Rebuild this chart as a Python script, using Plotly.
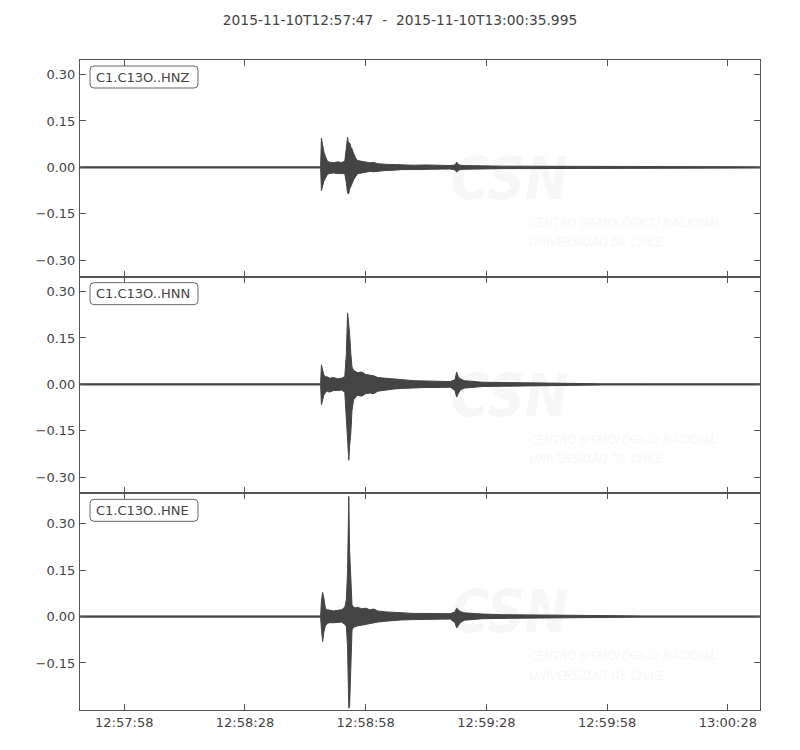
import pandas as pd
import plotly.graph_objects as go
from plotly.subplots import make_subplots

# ---------------- data ----------------
title_text = "2015-11-10T12:57:47\u00a0\u00a0-\u00a0\u00a02015-11-10T13:00:35.995"
start_time = "2015-11-10 12:57:47"
end_time = "2015-11-10 13:00:35.995"
channels = ["C1.C13O..HNZ", "C1.C13O..HNN", "C1.C13O..HNE"]
tick_labels = ["12:57:58", "12:58:28", "12:58:58", "12:59:28", "12:59:58", "13:00:28"]

# seconds after start at which the envelope was read
t_sec = [0, 10, 30, 40, 50, 59.8, 60.0, 60.3, 60.6, 61.0, 61.5, 62, 63, 64, 65, 65.8,
         66.2, 66.5, 66.8, 67.0, 67.3, 67.6, 68.0, 68.5, 69, 70, 71, 72, 73, 74,
         76, 78, 80, 83, 86, 89, 92,
         93.2, 93.6, 94.0, 94.5, 95.5, 97, 100, 105, 110, 120, 130, 140, 150, 160, 168.995]

hnz_upper = [0.002, 0.002, 0.003, 0.002, 0.002, 0.002,
             0.094, 0.07, 0.05, 0.035, 0.02, 0.017, 0.015, 0.018, 0.016, 0.02,
             0.06, 0.097, 0.07, 0.08, 0.066, 0.06, 0.045, 0.03, 0.022, 0.02, 0.018, 0.015, 0.016, 0.012,
             0.01, 0.009, 0.008, 0.007, 0.008, 0.006, 0.006,
             0.008, 0.017, 0.01, 0.007, 0.006, 0.005, 0.005, 0.004, 0.004, 0.004, 0.003, 0.003, 0.002, 0.002, 0.002]
hnz_lower = [-0.002, -0.002, -0.003, -0.002, -0.002, -0.002,
             -0.075, -0.06, -0.045, -0.035, -0.022, -0.02, -0.018, -0.02, -0.019, -0.02,
             -0.05, -0.083, -0.085, -0.07, -0.062, -0.05, -0.04, -0.03, -0.02, -0.018, -0.016, -0.013, -0.014, -0.012,
             -0.01, -0.009, -0.007, -0.007, -0.006, -0.006, -0.005,
             -0.008, -0.015, -0.01, -0.007, -0.006, -0.005, -0.005, -0.004, -0.004, -0.004, -0.003, -0.003, -0.002, -0.002, -0.002]

hnn_upper = [0.002, 0.002, 0.002, 0.002, 0.002, 0.002,
             0.063, 0.045, 0.03, 0.025, 0.024, 0.02, 0.022, 0.018, 0.02, 0.025,
             0.1, 0.231, 0.2, 0.165, 0.1, 0.056, 0.045, 0.04, 0.038, 0.04, 0.032, 0.03, 0.028, 0.022,
             0.02, 0.016, 0.014, 0.012, 0.011, 0.01, 0.009,
             0.015, 0.04, 0.025, 0.018, 0.012, 0.01, 0.007, 0.006, 0.005, 0.004, 0.002, 0.002, 0.002, 0.003, 0.002]
hnn_lower = [-0.002, -0.002, -0.002, -0.002, -0.002, -0.002,
             -0.066, -0.05, -0.035, -0.026, -0.022, -0.025, -0.02, -0.02, -0.018, -0.025,
             -0.12, -0.2, -0.245, -0.2, -0.158, -0.084, -0.05, -0.041, -0.035, -0.038, -0.03, -0.028, -0.03, -0.022,
             -0.018, -0.015, -0.013, -0.011, -0.01, -0.01, -0.009,
             -0.02, -0.041, -0.03, -0.018, -0.012, -0.01, -0.007, -0.006, -0.005, -0.004, -0.002, -0.002, -0.002, -0.003, -0.002]

hne_upper = [0.002, 0.002, 0.002, 0.002, 0.002, 0.002,
             0.05, 0.078, 0.06, 0.025, 0.022, 0.02, 0.018, 0.02, 0.022, 0.03,
             0.054, 0.15, 0.388, 0.215, 0.086, 0.037, 0.03, 0.028, 0.03, 0.025, 0.027, 0.022, 0.024, 0.018,
             0.015, 0.013, 0.012, 0.01, 0.01, 0.009, 0.009,
             0.015, 0.027, 0.022, 0.016, 0.012, 0.01, 0.008, 0.006, 0.005, 0.004, 0.003, 0.002, 0.002, 0.002, 0.002]
hne_lower = [-0.002, -0.002, -0.002, -0.002, -0.002, -0.002,
             -0.04, -0.081, -0.05, -0.03, -0.022, -0.02, -0.02, -0.018, -0.018, -0.025,
             -0.032, -0.1, -0.296, -0.29, -0.129, -0.043, -0.035, -0.032, -0.03, -0.028, -0.025, -0.022, -0.02, -0.018,
             -0.015, -0.012, -0.011, -0.01, -0.009, -0.009, -0.008,
             -0.02, -0.037, -0.03, -0.02, -0.012, -0.01, -0.007, -0.006, -0.005, -0.004, -0.003, -0.002, -0.002, -0.002, -0.002]

y_ranges = [[-0.353, 0.347], [-0.352, 0.348], [-0.302, 0.398]]
y_ticks = [[-0.30, -0.15, 0.0, 0.15, 0.30], [-0.30, -0.15, 0.0, 0.15, 0.30], [-0.15, 0.0, 0.15, 0.30]]

uppers = [hnz_upper, hnn_upper, hne_upper]
lowers = [hnz_lower, hnn_lower, hne_lower]

# ---------------- figure ----------------
t0 = pd.Timestamp(start_time)
x_time = t0 + pd.to_timedelta(t_sec, unit="s")
tick_vals = [pd.Timestamp("2015-11-10 " + s) for s in tick_labels]

TRACE = "#444444"
TEXT = "#444444"
AX = "#555555"
WM = "#f7f7f7"
FONT = "DejaVu Sans"
WMFONT = "Liberation Sans Narrow, DejaVu Sans Condensed, Liberation Sans"

fig = make_subplots(rows=3, cols=1, shared_xaxes=True, vertical_spacing=0)

for i in range(3):
    r = i + 1
    lo_r, hi_r = y_ranges[i]
    span = hi_r - lo_r
    # faint watermark (drawn first, so below the trace)
    fig.add_trace(go.Scatter(
        x=[t0 + pd.Timedelta(seconds=106.8)], y=[hi_r - span * 0.575],
        mode="text", text=["<b><i>CSN</i></b>"],
        textfont=dict(family=WMFONT, size=58, color=WM),
        hoverinfo="skip", showlegend=False), row=r, col=1)
    fig.add_trace(go.Scatter(
        x=[t0 + pd.Timedelta(seconds=111.7), t0 + pd.Timedelta(seconds=111.7)],
        y=[hi_r - span * 0.756, hi_r - span * 0.845],
        mode="text",
        text=["<i>CENTRO SISMOLÓGICO NACIONAL</i>", "<i>UNIVERSIDAD DE CHILE</i>"],
        textposition="middle right",
        textfont=dict(family=WMFONT, size=12.5, color=WM),
        hoverinfo="skip", showlegend=False), row=r, col=1)

    fig.add_trace(go.Scatter(
        x=x_time, y=uppers[i], mode="lines",
        line=dict(color=TRACE, width=1), hoverinfo="skip", showlegend=False), row=r, col=1)
    fig.add_trace(go.Scatter(
        x=x_time, y=lowers[i], mode="lines", fill="tonexty", fillcolor=TRACE,
        line=dict(color=TRACE, width=1), hoverinfo="skip", showlegend=False), row=r, col=1)

    fig.update_yaxes(range=y_ranges[i], tickvals=y_ticks[i], tickformat=".2f",
                     row=r, col=1)

    # channel label with rounded box
    xd = "x domain" if i == 0 else f"x{r} domain"
    yd = "y domain" if i == 0 else f"y{r} domain"
    x0, x1, yt, yb, rr = 10, 118, -6, -28, 4
    path = (f"M{x0+rr},{yt} L{x1-rr},{yt} Q{x1},{yt} {x1},{yt-rr} L{x1},{yb+rr} "
            f"Q{x1},{yb} {x1-rr},{yb} L{x0+rr},{yb} Q{x0},{yb} {x0},{yb+rr} "
            f"L{x0},{yt-rr} Q{x0},{yt} {x0+rr},{yt} Z")
    fig.add_shape(type="path", path=path, xref=xd, yref=yd,
                  xsizemode="pixel", ysizemode="pixel", xanchor=0, yanchor=1,
                  line=dict(color="#666666", width=1), fillcolor="white", layer="above")
    fig.add_annotation(text=channels[i], xref=xd, yref=yd, x=0, y=1,
                       xanchor="left", yanchor="middle", xshift=14, yshift=-17,
                       showarrow=False, font=dict(family=FONT, size=13, color=TEXT))

fig.update_xaxes(type="date", range=[start_time, end_time],
                 tickvals=tick_vals, ticktext=tick_labels,
                 ticks="inside", ticklen=6, tickcolor=AX, mirror="ticks",
                 showline=True, linecolor=AX, linewidth=1, showgrid=False, zeroline=False,
                 tickfont=dict(family=FONT, size=13, color=TEXT))
fig.update_yaxes(ticks="inside", ticklen=6, tickcolor=AX, mirror="ticks",
                 showline=True, linecolor=AX, linewidth=1, showgrid=False, zeroline=False,
                 ticklabelstandoff=1,
                 tickfont=dict(family=FONT, size=13, color=TEXT))

# page body has an 8px margin: size and margins compensate so the plot area
# lands at x 80..760, y 60..710 in the 800x750 window
fig.update_layout(
    width=784, height=734,
    margin=dict(l=72, r=32, t=52, b=32),
    paper_bgcolor="white", plot_bgcolor="white",
    title=dict(text=title_text, x=0.5, xref="container", xanchor="center",
               y=1 - 12.5 / 734, yref="container", yanchor="middle",
               font=dict(family=FONT, size=13.8, color=TEXT)),
    font=dict(family=FONT, size=13, color=TEXT),
    showlegend=False,
)

fig.write_html("out.html")
